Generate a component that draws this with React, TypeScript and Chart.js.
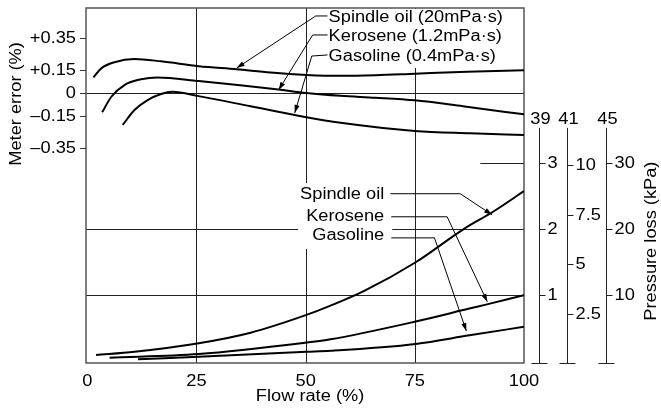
import React, { useEffect, useRef } from 'react';
import { Chart, registerables } from 'chart.js';

Chart.register(...registerables);

// ---- axis ticks ----
const flowTicks = [0, 25, 50, 75, 100];
const errorTicks = [0.35, 0.15, 0, -0.15, -0.35];
const errorTickLabels = ['+0.35', '+0.15', '0', '–0.15', '–0.35'];
const loss39Ticks = [1, 2, 3];
const loss41Ticks = [2.5, 5, 7.5, 10];
const loss45Ticks = [10, 20, 30];
const lossModels = ['39', '41', '45'];

// ---- meter error (%) vs flow rate (%) ----
const spindleErrFlow = [1.4, 3.2, 6.2, 10.8, 16.9, 25.5, 34.2, 42, 50.2, 58, 66, 75, 87, 100];
const spindleErr = [0.1, 0.158, 0.197, 0.218, 0.203, 0.172, 0.152, 0.131, 0.116, 0.11, 0.114, 0.124, 0.137, 0.146];
const keroseneErrFlow = [3.4, 5.5, 8.5, 12.3, 16.1, 25.5, 35, 43.8, 50.2, 58, 66, 75, 86, 100];
const keroseneErr = [-0.124, -0.024, 0.051, 0.088, 0.1, 0.077, 0.05, 0.022, 0.0, -0.018, -0.03, -0.047, -0.085, -0.137];
const gasolineErrFlow = [8.1, 10.8, 13.8, 16.9, 19.5, 25.5, 37.4, 50.2, 58, 75, 87.7, 100];
const gasolineErr = [-0.205, -0.109, -0.045, -0.006, 0.008, -0.02, -0.085, -0.155, -0.19, -0.243, -0.258, -0.269];

// ---- pressure loss (model 39 units) vs flow rate (%) ----
const spindleLossFlow = [2, 10.8, 25.5, 37.4, 50.2, 55.7, 63.3, 75.2, 86.1, 93, 100];
const spindleLoss = [0.09, 0.14, 0.27, 0.43, 0.7, 0.84, 1.06, 1.5, 2.0, 2.27, 2.58];
const keroseneLossFlow = [5.1, 25.5, 50.2, 55.7, 75.2, 87.7, 91.5, 100];
const keroseneLoss = [0.05, 0.106, 0.28, 0.33, 0.6, 0.8, 0.86, 1.0];
const gasolineLossFlow = [11.6, 25.5, 50.2, 55.7, 75.2, 87.5, 100];
const gasolineLoss = [0.026, 0.065, 0.14, 0.156, 0.26, 0.39, 0.52];

// ---- annotations ----
const topLabels = ['Spindle oil (20mPa·s)', 'Kerosene (1.2mPa·s)', 'Gasoline (0.4mPa·s)'];
const topLabelErr = [0.481, 0.359, 0.231];
const topLeaders = [
  [[55.0, 0.494], [52.3, 0.494], [34.2, 0.16]],
  [[55.0, 0.372], [51.6, 0.372], [43.8, 0.019]],
  [[55.0, 0.244], [51.4, 0.237], [47.5, -0.128]],
];
const bottomLabels = ['Spindle oil', 'Kerosene', 'Gasoline'];
const bottomLabelLoss = [2.52, 2.2, 1.9];
const bottomLeaders = [
  [[69.4, 2.54], [85.4, 2.54], [92.7, 2.22]],
  [[69.6, 2.19], [82.4, 2.19], [91.6, 0.9]],
  [[69.6, 1.87], [79.5, 1.87], [86.8, 0.455]],
];

const FONT = '16px "Liberation Sans", Arial, Helvetica, sans-serif';
const SX = 1.14;

function txt(ctx: CanvasRenderingContext2D, s: string, x: number, y: number, align: CanvasTextAlign, rot = false) {
  ctx.save();
  ctx.translate(x, y);
  if (rot) ctx.rotate(-Math.PI / 2);
  ctx.scale(SX, 1);
  ctx.textAlign = align;
  ctx.textBaseline = 'middle';
  ctx.fillText(s, 0, 0);
  ctx.restore();
}

function seg(ctx: CanvasRenderingContext2D, x1: number, y1: number, x2: number, y2: number) {
  ctx.beginPath();
  ctx.moveTo(x1, y1);
  ctx.lineTo(x2, y2);
  ctx.stroke();
}

const decor = {
  id: 'decor',
  beforeDatasetsDraw(chart: any) {
    const ctx: CanvasRenderingContext2D = chart.ctx;
    const { left, right, top, bottom } = chart.chartArea;
    const xs = chart.scales.x;
    const ye = chart.scales.ye;
    const yp = chart.scales.yp;
    const y41 = chart.scales.y41;
    const y45 = chart.scales.y45;
    const r = (v: number) => Math.round(v) + 0.5;
    ctx.save();
    ctx.font = FONT;

    // grid lines
    ctx.strokeStyle = '#222';
    ctx.lineWidth = 1;
    for (const v of flowTicks.slice(1, 4)) {
      const px = r(xs.getPixelForValue(v));
      seg(ctx, px, top, px, bottom);
    }
    const yz = r(ye.getPixelForValue(0));
    seg(ctx, left, yz, right, yz);
    for (const v of [1, 2]) {
      const py = r(yp.getPixelForValue(v));
      seg(ctx, left, py, right, py);
    }
    const y3 = r(yp.getPixelForValue(3));
    seg(ctx, xs.getPixelForValue(90), y3, right, y3);

    // label blocks (white background)
    const topX = xs.getPixelForValue(55.25);
    let topW = 0;
    for (const s of topLabels) topW = Math.max(topW, ctx.measureText(s).width * SX);
    const topYs = topLabelErr.map((v) => ye.getPixelForValue(v));
    ctx.fillStyle = '#fff';
    ctx.fillRect(topX - 2, top + 1, topW + 4, topYs[2] + 11 - top - 1);
    const botX = xs.getPixelForValue(68.0);
    let botW = 0;
    for (const s of bottomLabels) botW = Math.max(botW, ctx.measureText(s).width * SX);
    const botYs = bottomLabelLoss.map((v) => yp.getPixelForValue(v));
    ctx.fillRect(botX - botW - 2, botYs[0] - 12, botW + 10, botYs[2] - botYs[0] + 25);

    ctx.fillStyle = '#000';
    topLabels.forEach((s, i) => txt(ctx, s, topX, topYs[i], 'left'));
    bottomLabels.forEach((s, i) => txt(ctx, s, botX, botYs[i], 'right'));

    // frame
    ctx.strokeStyle = '#555';
    ctx.lineWidth = 1.5;
    ctx.strokeRect(left, top, right - left, bottom - top);

    // x axis labels
    ctx.fillStyle = '#000';
    flowTicks.forEach((v) => txt(ctx, String(v), xs.getPixelForValue(v), bottom + 19, 'center'));
    txt(ctx, 'Flow rate (%)', xs.getPixelForValue(51), bottom + 34, 'center');

    // left meter error axis
    ctx.strokeStyle = '#333';
    ctx.lineWidth = 1;
    errorTicks.forEach((v, i) => {
      const py = r(ye.getPixelForValue(v));
      seg(ctx, left - 6, py, left, py);
      txt(ctx, errorTickLabels[i], left - 10, py, 'right');
    });
    txt(ctx, 'Meter error (%)', left - 69, ye.getPixelForValue(-0.07), 'center', true);

    // right pressure loss axes
    const axes = [
      { x: right + 15, scale: yp, ticks: loss39Ticks },
      { x: right + 43, scale: y41, ticks: loss41Ticks },
      { x: right + 82, scale: y45, ticks: loss45Ticks },
    ];
    const axTop = yp.getPixelForValue(3.54);
    ctx.strokeStyle = '#222';
    axes.forEach((a, i) => {
      const ax = r(a.x);
      seg(ctx, ax, axTop, ax, bottom);
      seg(ctx, ax - 8, r(bottom), ax + 8, r(bottom));
      a.ticks.forEach((v) => {
        const py = r(a.scale.getPixelForValue(v));
        seg(ctx, ax, py, ax + 6, py);
        txt(ctx, String(v), ax + 8, py, 'left');
      });
      txt(ctx, lossModels[i], ax + 1, axTop - 8, 'center');
    });
    txt(ctx, 'Pressure loss (kPa)', right + 128, yp.getPixelForValue(1.82), 'center', true);
    ctx.restore();
  },
  afterDatasetsDraw(chart: any) {
    const ctx: CanvasRenderingContext2D = chart.ctx;
    const xs = chart.scales.x;
    const ye = chart.scales.ye;
    const yp = chart.scales.yp;
    ctx.save();
    ctx.strokeStyle = '#000';
    ctx.fillStyle = '#000';
    ctx.lineWidth = 1;
    const drawLeader = (pts: number[][], ys: any) => {
      const p = pts.map(([fx, fy]) => [xs.getPixelForValue(fx), ys.getPixelForValue(fy)]);
      ctx.beginPath();
      ctx.moveTo(p[0][0], p[0][1]);
      for (let i = 1; i < p.length; i++) ctx.lineTo(p[i][0], p[i][1]);
      ctx.stroke();
      const [tx, ty] = p[p.length - 1];
      const [sx, sy] = p[p.length - 2];
      const ang = Math.atan2(ty - sy, tx - sx);
      const L = 8;
      const W = 2.6;
      ctx.beginPath();
      ctx.moveTo(tx, ty);
      ctx.lineTo(tx - L * Math.cos(ang) + W * Math.sin(ang), ty - L * Math.sin(ang) - W * Math.cos(ang));
      ctx.lineTo(tx - L * Math.cos(ang) - W * Math.sin(ang), ty - L * Math.sin(ang) + W * Math.cos(ang));
      ctx.closePath();
      ctx.fill();
    };
    topLeaders.forEach((pts) => drawLeader(pts, ye));
    bottomLeaders.forEach((pts) => drawLeader(pts, yp));
    ctx.restore();
  },
};

function series(flow: number[], vals: number[], axis: string) {
  return {
    data: flow.map((f, i) => ({ x: f, y: vals[i] })),
    yAxisID: axis,
    borderColor: '#000',
    borderWidth: 2,
    pointRadius: 0,
    fill: false,
    cubicInterpolationMode: 'monotone' as const,
  };
}

export default function App() {
  const ref = useRef<HTMLCanvasElement>(null);
  useEffect(() => {
    if (!ref.current) return;
    const chart = new Chart(ref.current, {
      type: 'line',
      data: {
        datasets: [
          series(spindleErrFlow, spindleErr, 'ye'),
          series(keroseneErrFlow, keroseneErr, 'ye'),
          series(gasolineErrFlow, gasolineErr, 'ye'),
          series(spindleLossFlow, spindleLoss, 'yp'),
          series(keroseneLossFlow, keroseneLoss, 'yp'),
          series(gasolineLossFlow, gasolineLoss, 'yp'),
        ] as any,
      },
      options: {
        animation: false,
        responsive: false,
        events: [],
        layout: { padding: { left: 86, right: 137, top: 8, bottom: 46 } },
        plugins: { legend: { display: false }, tooltip: { enabled: false } },
        scales: {
          x: { type: 'linear', min: -0.3, max: 100, display: false },
          ye: { type: 'linear', min: -1.731, max: 0.545, display: false },
          yp: { type: 'linear', min: -0.03, max: 5.36, display: false },
          y41: { type: 'linear', min: 0, max: 17.93, display: false },
          y45: { type: 'linear', min: -0.3, max: 53.6, display: false },
        },
      } as any,
      plugins: [decor],
    });
    return () => chart.destroy();
  }, []);
  return (
    <div style={{ position: 'absolute', left: 0, top: 0, width: 661, height: 409, background: '#fff' }}>
      <canvas ref={ref} width={661} height={409} style={{ display: 'block' }} />
    </div>
  );
}
